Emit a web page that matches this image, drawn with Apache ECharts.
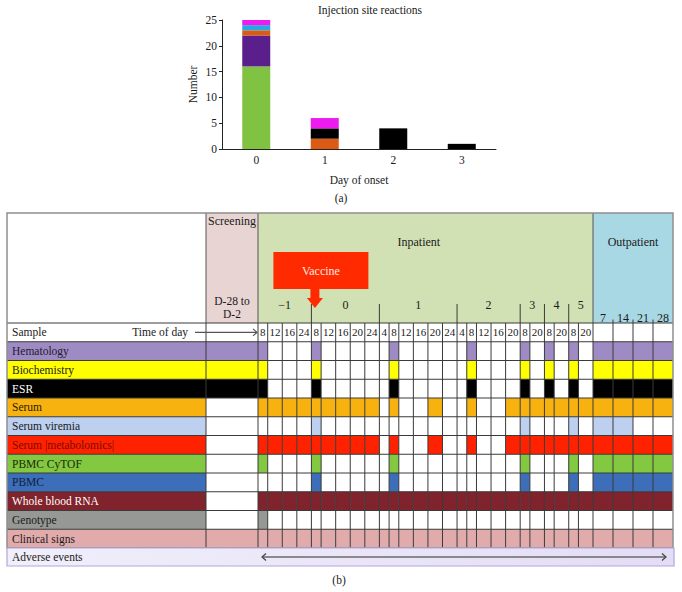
<!DOCTYPE html>
<html><head><meta charset="utf-8">
<script src="https://cdn.jsdelivr.net/npm/echarts@6/dist/echarts.min.js"></script>
<style>html,body{margin:0;padding:0;background:#fff}#chart{width:682px;height:592px}</style>
</head><body><div id="chart"></div>
<script>
// ---------------- Panel (a) data ----------------
const onsetDays = ['0', '1', '2', '3'];
const reactionGreen   = [16, 0, 0, 0];
const reactionPurple  = [6, 0, 0, 0];
const reactionOrange  = [1, 2, 0, 0];
const reactionBlack   = [0, 2, 4, 1];
const reactionCyan    = [1, 0, 0, 0];
const reactionMagenta = [1, 2, 0, 0];

// ---------------- Panel (b) data ----------------
const inpatientDays = ['\u22121', '0', '1', '2', '3', '4', '5'];
const timesPerDay = [
  ['8', '12', '16', '24'],
  ['8', '12', '16', '20', '24'],
  ['4', '8', '12', '16', '20', '24'],
  ['4', '8', '12', '16', '20'],
  ['8', '20'],
  ['8', '20'],
  ['8', '20']
];
const outpatientDays = ['7', '14', '21', '28'];
const sampleTypes = ['Hematology', 'Biochemistry', 'ESR', 'Serum', 'Serum viremia',
  'Serum |metabolomics|', 'PBMC CyTOF', 'PBMC', 'Whole blood RNA', 'Genotype', 'Clinical signs'];
// flags: [screening | day -1 (4) | day 0 (5) | day 1 (6) | day 2 (5) | day 3 (2) | day 4 (2) | day 5 (2) | outpatient (4)]
const hematology    = [1, 1,0,0,0, 1,0,0,0,0, 0,1,0,0,0,0, 0,1,0,0,0, 1,0, 1,0, 1,0, 1,1,1,1];
const biochemistry  = [1, 1,0,0,0, 1,0,0,0,0, 0,1,0,0,0,0, 0,1,0,0,0, 1,0, 1,0, 1,0, 1,1,1,1];
const esr           = [1, 1,0,0,0, 1,0,0,0,0, 0,1,0,0,0,0, 0,1,0,0,0, 1,0, 1,0, 1,0, 1,1,1,1];
const serum         = [0, 1,1,1,1, 1,1,1,1,1, 0,1,0,0,1,0, 0,1,0,0,1, 1,1, 1,1, 1,1, 1,1,1,1];
const serumViremia  = [0, 0,0,0,0, 1,0,0,0,0, 0,0,0,0,0,0, 0,0,0,0,0, 1,0, 0,0, 1,0, 1,1,0,0];
const metabolomics  = [0, 1,1,1,1, 1,1,1,1,1, 0,1,0,0,1,0, 0,1,0,0,1, 1,1, 1,1, 1,1, 1,1,1,1];
const pbmcCytof     = [0, 1,0,0,0, 1,0,0,0,0, 0,1,0,0,0,0, 0,0,0,0,0, 1,0, 0,0, 1,0, 1,1,1,1];
const pbmc          = [0, 0,0,0,0, 1,0,0,0,0, 0,1,0,0,0,0, 0,0,0,0,0, 1,0, 0,0, 1,0, 1,1,1,1];
const wholeBloodRNA = [0, 1,1,1,1, 1,1,1,1,1, 1,1,1,1,1,1, 1,1,1,1,1, 1,1, 1,1, 1,1, 1,1,1,1];
const genotype      = [0, 1,0,0,0, 0,0,0,0,0, 0,0,0,0,0,0, 0,0,0,0,0, 0,0, 0,0, 0,0, 0,0,0,0];
const clinicalSigns = [1, 1,1,1,1, 1,1,1,1,1, 1,1,1,1,1,1, 1,1,1,1,1, 1,1, 1,1, 1,1, 1,1,1,1];
const schedules = [hematology, biochemistry, esr, serum, serumViremia, metabolomics,
  pbmcCytof, pbmc, wholeBloodRNA, genotype, clinicalSigns];

// ---------------- styles & layout ----------------
const FONT = "'Liberation Serif','DejaVu Serif','Times New Roman',serif";
const SAMPLE_COLORS = ['#9f8bc4', '#ffff00', '#000000', '#f7b20f', '#bdd0f0', '#ff2200',
  '#82c840', '#3d6eb9', '#80232c', '#969895', '#e2abab'];
const SAMPLE_TEXT = ['#1e1a2e', '#1a1a1a', '#ffffff', '#2a1a00', '#1a1a1a', '#7a0c00',
  '#1a2a0a', '#0e1e40', '#ffffff', '#1a1a1a', '#1a1a1a'];
const BAR_COLORS = ['#80c342', '#5b1f8c', '#dc5a14', '#000000', '#28a9e1', '#ee1bef'];
const L = { labelW: 199, screenW: 52, timeW: 335, outW: 80, headerH: 110, rowH: 18.75, tableW: 666, adverseH: 18 };

const timeLabels = timesPerDay.flat();
const unitsOf = s => (s.length === 1 ? 2 : 3);
const totalUnits = timeLabels.reduce((a, s) => a + unitsOf(s), 0);
const colEdges = [L.labelW + L.screenW];
timeLabels.forEach(s => colEdges.push(colEdges[colEdges.length - 1] + unitsOf(s) * L.timeW / totalUnits));
const outStart = colEdges[colEdges.length - 1];
const outEdges = outpatientDays.map((d, i) => outStart + i * L.outW / outpatientDays.length).concat([outStart + L.outW]);
const dayEdges = [colEdges[0]];
{ let k = 0; timesPerDay.forEach(g => { k += g.length; dayEdges.push(colEdges[k]); }); }
const nTime = timeLabels.length;
function spanOf(j) {
  if (j === 0) return [L.labelW, L.labelW + L.screenW];
  if (j <= nTime) return [colEdges[j - 1], colEdges[j]];
  const o = j - nTime - 1;
  return [outEdges[o], outEdges[o + 1]];
}
const tableBottom = L.headerH + (sampleTypes.length + 1) * L.rowH;

const cellData = [];
schedules.forEach((flags, i) => {
  const row = i + 1;
  cellData.push([0, L.labelW, row, i]);
  flags.forEach((f, j) => { if (f) { const s = spanOf(j); cellData.push([s[0], s[1], row, i]); } });
});

function renderCell(params, api) {
  const x0 = api.value(0), x1 = api.value(1), r = api.value(2), t = api.value(3);
  const y0 = L.headerH + r * L.rowH;
  const a = api.coord([x0, y0]), b = api.coord([x1, y0 + L.rowH]);
  return { type: 'rect', shape: { x: a[0], y: a[1], width: b[0] - a[0], height: b[1] - a[1] },
    style: { fill: SAMPLE_COLORS[t], stroke: null } };
}

function renderFrame(params, api) {
  const P = (x, y) => api.coord([x, y]);
  const ch = [];
  const rect = (x0, y0, x1, y1, style) => { const a = P(x0, y0), b = P(x1, y1);
    ch.push({ type: 'rect', shape: { x: a[0], y: a[1], width: b[0] - a[0], height: b[1] - a[1] }, style }); };
  const line = (x0, y0, x1, y1, stroke, w) => { const a = P(x0, y0), b = P(x1, y1);
    ch.push({ type: 'line', shape: { x1: a[0], y1: a[1], x2: b[0], y2: b[1] }, style: { stroke, lineWidth: w || 1 } }); };
  const poly = (pts, style, type) => { ch.push({ type: type || 'polyline', shape: { points: pts.map(p => P(p[0], p[1])) }, style }); };
  const text = (s, x, y, opt) => { const p = P(x, y);
    ch.push({ type: 'text', style: Object.assign({ text: s, x: p[0], y: p[1], font: '12px ' + FONT,
      fill: '#1a1a1a', align: 'center', verticalAlign: 'middle' }, opt || {}) }); };

  // header backgrounds
  rect(L.labelW, 0, L.labelW + L.screenW, L.headerH, { fill: '#e8d4d3' });
  rect(colEdges[0], 0, outStart, L.headerH, { fill: '#d1e1b4' });
  rect(outStart, 0, L.tableW, L.headerH, { fill: '#a8d8e4' });

  const LC = '#3a3a3a';
  // header separators
  [L.labelW, L.labelW + L.screenW, outStart].forEach(x => line(x, 0, x, L.headerH, '#555'));
  // day dividers
  dayEdges.slice(1, -1).forEach(x => line(x, 91, x, L.headerH, LC));
  // outpatient small ticks
  outEdges.slice(1, -1).forEach(x => line(x, 106.5, x, L.headerH, LC));

  // row grid
  for (let r = 0; r <= sampleTypes.length; r++) {
    const y = L.headerH + r * L.rowH;
    line(0, y, L.tableW, y, LC);
  }
  const vx = [L.labelW].concat(colEdges, outEdges.slice(1, -1));
  vx.forEach(x => line(x, L.headerH, x, tableBottom, LC));
  // outer border
  rect(0, 0, L.tableW, tableBottom, { fill: null, stroke: '#8f8f8f', lineWidth: 1.5 });

  // header text
  const scX = L.labelW + L.screenW / 2;
  text('Screening', scX, 8);
  text('D-28 to', scX, 88, { font: '11.5px ' + FONT });
  text('D-2', scX, 101, { font: '11.5px ' + FONT });
  text('Inpatient', colEdges[0] + L.timeW * 0.48, 29);
  text('Outpatient', outStart + L.outW / 2, 29);
  inpatientDays.forEach((d, i) => text(d, (dayEdges[i] + dayEdges[i + 1]) / 2, 92));
  outpatientDays.forEach((d, i) => text(d, (outEdges[i] + outEdges[i + 1]) / 2, 105));

  // vaccine box + arrow
  const ax = dayEdges[1];
  rect(ax - 38, 39, ax + 57, 76, { fill: '#ff2a00' });
  text('Vaccine', ax + 9.5, 57.5, { fill: '#ffe8e0' });
  poly([[ax - 1, 75], [ax + 8, 75], [ax + 8, 85], [ax + 11.5, 85], [ax + 3.5, 95], [ax - 4.5, 85], [ax - 1, 85]],
    { fill: '#ff2a00' }, 'polygon');

  // sample row
  const r0 = L.headerH + L.rowH / 2;
  text('Sample', 5, r0, { align: 'left', font: '11.5px ' + FONT });
  text('Time of day', 181, r0, { align: 'right', font: '11.5px ' + FONT });
  line(188, r0, colEdges[0] - 1, r0, '#555', 1.2);
  poly([[colEdges[0] - 5, r0 - 3.5], [colEdges[0] - 1, r0], [colEdges[0] - 5, r0 + 3.5]], { stroke: '#555', fill: null, lineWidth: 1.2 });
  timeLabels.forEach((s, i) => text(s, (colEdges[i] + colEdges[i + 1]) / 2, r0, { font: '11px ' + FONT }));

  // sample labels
  sampleTypes.forEach((s, i) => text(s, 5, L.headerH + (i + 1.5) * L.rowH,
    { align: 'left', fill: SAMPLE_TEXT[i], font: '11.5px ' + FONT }));

  // adverse events row
  rect(0, tableBottom, L.tableW + 1, tableBottom + L.adverseH, {
    fill: new echarts.graphic.LinearGradient(0, 0, 1, 0, [{ offset: 0, color: '#f1effa' }, { offset: 1, color: '#e3ddf5' }]),
    stroke: '#b4a5dc', lineWidth: 1.2 });
  const ay = tableBottom + L.adverseH / 2;
  text('Adverse events', 5, ay, { align: 'left', font: '11.5px ' + FONT });
  line(255, ay, 659, ay, '#6a6a6a', 1.5);
  poly([[259, ay - 3.5], [255, ay], [259, ay + 3.5]], { stroke: '#444', fill: null, lineWidth: 1.2 });
  poly([[655, ay - 3.5], [659, ay], [655, ay + 3.5]], { stroke: '#444', fill: null, lineWidth: 1.2 });

  return { type: 'group', children: ch };
}

const barSeries = [reactionGreen, reactionPurple, reactionOrange, reactionBlack, reactionCyan, reactionMagenta]
  .map((d, i) => ({
    type: 'bar', stack: 'onset', xAxisIndex: 0, yAxisIndex: 0, barWidth: 28, data: d,
    itemStyle: { color: BAR_COLORS[i] }, silent: true
  }));

const axisText = { color: '#1a1a1a', fontFamily: FONT, fontSize: 11.5 };
const option = {
  animation: false,
  textStyle: { fontFamily: FONT },
  grid: [
    { left: 222, top: 20, width: 274, height: 129 },
    { left: 7, top: 213, width: L.tableW, height: tableBottom + L.adverseH }
  ],
  xAxis: [
    { gridIndex: 0, type: 'category', data: onsetDays,
      axisLine: { lineStyle: { color: '#222' } },
      axisTick: { length: 3, lineStyle: { color: '#222' } },
      axisLabel: Object.assign({ margin: 5 }, axisText),
      name: 'Day of onset', nameLocation: 'middle', nameGap: 25, nameTextStyle: axisText },
    { gridIndex: 1, type: 'value', min: 0, max: L.tableW, show: false }
  ],
  yAxis: [
    { gridIndex: 0, type: 'value', min: 0, max: 25, interval: 5,
      axisLine: { show: true, lineStyle: { color: '#222' } },
      axisTick: { show: true, length: 3, lineStyle: { color: '#222' } },
      splitLine: { show: false },
      axisLabel: Object.assign({ margin: 5 }, axisText),
      name: 'Number', nameLocation: 'middle', nameGap: 23, nameTextStyle: axisText },
    { gridIndex: 1, type: 'value', min: 0, max: tableBottom + L.adverseH, inverse: true, show: false }
  ],
  graphic: [
    { type: 'text', x: 370, y: 10, style: { text: 'Injection site reactions', font: '11.5px ' + FONT, fill: '#1a1a1a', textAlign: 'center', textVerticalAlign: 'middle', align: 'center', verticalAlign: 'middle' } },
    { type: 'text', x: 341, y: 198, style: { text: '(a)', font: '11.5px ' + FONT, fill: '#1a1a1a', textAlign: 'center', textVerticalAlign: 'middle', align: 'center', verticalAlign: 'middle' } },
    { type: 'text', x: 339, y: 580, style: { text: '(b)', font: '11.5px ' + FONT, fill: '#1a1a1a', textAlign: 'center', textVerticalAlign: 'middle', align: 'center', verticalAlign: 'middle' } }
  ],
  series: barSeries.concat([
    { type: 'custom', name: 'samples', xAxisIndex: 1, yAxisIndex: 1, z: 2, clip: false, silent: true,
      encode: { x: [0, 1], y: 2 }, data: cellData, renderItem: renderCell },
    { type: 'custom', name: 'frame', xAxisIndex: 1, yAxisIndex: 1, z: 3, clip: false, silent: true,
      encode: { x: 0, y: 1 }, data: [[0, 0]], renderItem: renderFrame }
  ])
};
const chart = echarts.init(document.getElementById('chart'), null, { renderer: 'svg' });
chart.setOption(option);
</script>
</body></html>
